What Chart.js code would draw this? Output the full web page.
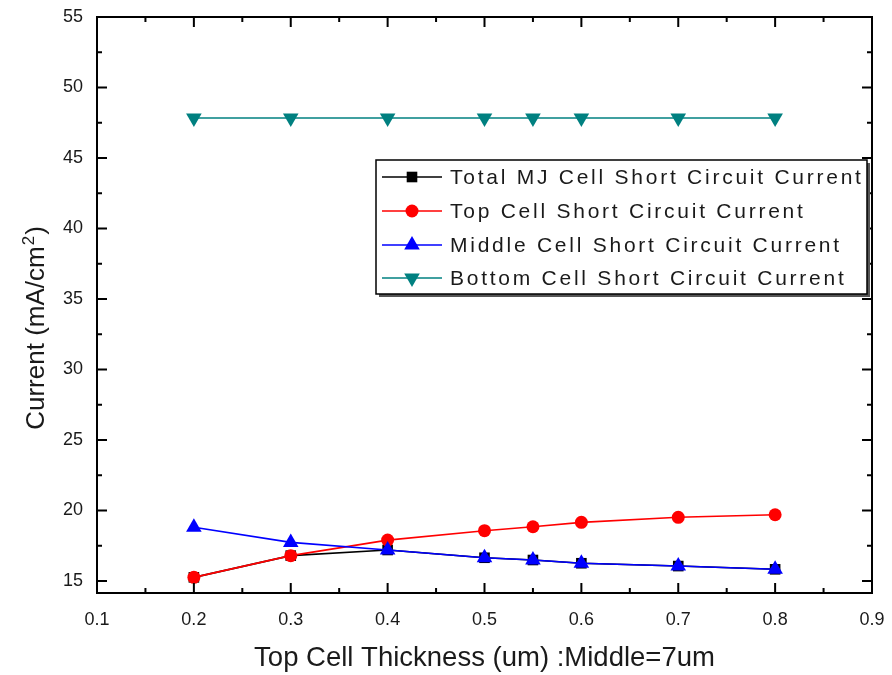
<!DOCTYPE html>
<html>
<head>
<meta charset="utf-8">
<script src="https://cdn.jsdelivr.net/npm/chart.js@4/dist/chart.umd.min.js"></script>
<style>
  html, body { margin: 0; padding: 0; background: #ffffff; }
  #wrap { width: 892px; height: 675px; }
</style>
</head>
<body>
<div id="wrap"><canvas id="chart" width="892" height="675"></canvas></div>
<script>
// Top cell thickness (um) and the short-circuit currents (mA/cm^2)
const thickness = [0.2, 0.3, 0.4, 0.5, 0.55, 0.6, 0.7, 0.8];
const totalCurrent = [15.26, 16.8, 17.2, 16.65, 16.49, 16.26, 16.06, 15.83];
const topCurrent = [15.26, 16.8, 17.9, 18.57, 18.85, 19.16, 19.52, 19.7];
const middleCurrent = [18.81, 17.74, 17.2, 16.65, 16.49, 16.26, 16.06, 15.83];
const bottomCurrent = [47.84, 47.84, 47.84, 47.84, 47.84, 47.84, 47.84, 47.84];
const seriesNames = [
  'Total MJ Cell Short Circuit Current',
  'Top Cell Short Circuit Current',
  'Middle Cell Short Circuit Current',
  'Bottom Cell Short Circuit Current'
];
const xTickValues = [0.1, 0.2, 0.3, 0.4, 0.5, 0.6, 0.7, 0.8, 0.9];
const yTickValues = [15, 20, 25, 30, 35, 40, 45, 50, 55];
const xTitle = 'Top Cell Thickness (um) :Middle=7um';
const yTitleMain = 'Current (mA/cm';
const yTitleSup = '2';
const yTitleEnd = ')';

const FONT = '"Liberation Sans", Arial, Helvetica, sans-serif';
const INK = '#1a1a1a';

function pts(vals) { return thickness.map((x, i) => ({ x: x, y: vals[i] })); }

const seriesStyle = [
  { color: '#000000', point: 'rect', radius: 7.5, rotation: 0, order: 3 },
  { color: '#ff0000', point: 'circle', radius: 6.5, rotation: 0, order: 2 },
  { color: '#0000ff', point: 'triangle', radius: 9, rotation: 0, order: 1 },
  { color: '#008080', point: 'triangle', radius: 9, rotation: 180, order: 0 }
];
const seriesValues = [totalCurrent, topCurrent, middleCurrent, bottomCurrent];

const datasets = seriesValues.map((vals, i) => {
  const s = seriesStyle[i];
  return {
    label: seriesNames[i],
    data: pts(vals),
    borderColor: s.color,
    backgroundColor: s.color,
    borderWidth: 1.6,
    pointStyle: s.point,
    pointRadius: s.radius,
    pointRotation: s.rotation,
    pointBorderWidth: 0,
    pointBackgroundColor: s.color,
    tension: 0,
    order: s.order
  };
});

// Frame box with inward major/minor ticks on all four sides, axis titles
const framePlugin = {
  id: 'frame',
  beforeDraw(chart) {
    const ctx = chart.ctx;
    ctx.save();
    ctx.fillStyle = '#ffffff';
    ctx.fillRect(0, 0, chart.width, chart.height);
    ctx.restore();
  },
  afterDatasetsDraw(chart) {
    const ctx = chart.ctx;
    const a = chart.chartArea;
    const xs = chart.scales.x, ys = chart.scales.y;
    ctx.save();
    ctx.strokeStyle = '#000000';
    ctx.lineWidth = 2;
    ctx.strokeRect(a.left, a.top, a.right - a.left, a.bottom - a.top);

    const major = 10, minor = 5;
    ctx.lineWidth = 2;
    ctx.beginPath();
    // x ticks (bottom and top)
    for (let i = 0; i < xTickValues.length; i++) {
      const px = xs.getPixelForValue(xTickValues[i]);
      ctx.moveTo(px, a.bottom); ctx.lineTo(px, a.bottom - major);
      ctx.moveTo(px, a.top); ctx.lineTo(px, a.top + major);
      if (i < xTickValues.length - 1) {
        const mx = xs.getPixelForValue((xTickValues[i] + xTickValues[i + 1]) / 2);
        ctx.moveTo(mx, a.bottom); ctx.lineTo(mx, a.bottom - minor);
        ctx.moveTo(mx, a.top); ctx.lineTo(mx, a.top + minor);
      }
    }
    // y ticks (left and right)
    for (let i = 0; i < yTickValues.length; i++) {
      const py = ys.getPixelForValue(yTickValues[i]);
      ctx.moveTo(a.left, py); ctx.lineTo(a.left + major, py);
      ctx.moveTo(a.right, py); ctx.lineTo(a.right - major, py);
      if (i < yTickValues.length - 1) {
        const my = ys.getPixelForValue((yTickValues[i] + yTickValues[i + 1]) / 2);
        ctx.moveTo(a.left, my); ctx.lineTo(a.left + minor, my);
        ctx.moveTo(a.right, my); ctx.lineTo(a.right - minor, my);
      }
    }
    ctx.stroke();

    // axis titles
    ctx.fillStyle = INK;
    ctx.font = '27.5px ' + FONT;
    ctx.textAlign = 'center';
    ctx.textBaseline = 'alphabetic';
    ctx.fillText(xTitle, (a.left + a.right) / 2, 666);

    ctx.translate(44, 329);
    ctx.rotate(-Math.PI / 2);
    ctx.textAlign = 'left';
    ctx.font = '26px ' + FONT;
    const w1 = ctx.measureText(yTitleMain).width;
    ctx.font = '17px ' + FONT;
    const w2 = ctx.measureText(yTitleSup).width;
    ctx.font = '26px ' + FONT;
    const w3 = ctx.measureText(yTitleEnd).width;
    let x0 = -(w1 + w2 + w3) / 2;
    ctx.fillText(yTitleMain, x0, 0);
    ctx.font = '17px ' + FONT;
    ctx.fillText(yTitleSup, x0 + w1 + 1, -10);
    ctx.font = '26px ' + FONT;
    ctx.fillText(yTitleEnd, x0 + w1 + w2 + 2, 0);
    ctx.restore();
  }
};

// Boxed legend with drop shadow
const legendPlugin = {
  id: 'boxLegend',
  afterDraw(chart) {
    const ctx = chart.ctx;
    const box = { l: 376, t: 160, r: 867, b: 294 };
    ctx.save();
    ctx.fillStyle = '#555555';
    ctx.fillRect(box.l + 3, box.t + 3, box.r - box.l, box.b - box.t);
    ctx.fillStyle = '#ffffff';
    ctx.fillRect(box.l, box.t, box.r - box.l, box.b - box.t);
    ctx.strokeStyle = '#000000';
    ctx.lineWidth = 1.5;
    ctx.strokeRect(box.l, box.t, box.r - box.l, box.b - box.t);

    const rowY = [177, 211, 245, 278];
    chart.data.datasets.forEach((ds, i) => {
      const y = rowY[i];
      ctx.strokeStyle = ds.borderColor;
      ctx.lineWidth = 1.6;
      ctx.beginPath();
      ctx.moveTo(382, y); ctx.lineTo(442, y);
      ctx.stroke();
      ctx.fillStyle = ds.borderColor;
      Chart.helpers.drawPoint(ctx, {
        pointStyle: ds.pointStyle,
        radius: ds.pointRadius,
        rotation: ds.pointRotation,
        borderWidth: 0
      }, 412, y);
      ctx.fillStyle = INK;
      ctx.font = '21px ' + FONT;
      ctx.letterSpacing = '2.75px';
      ctx.textAlign = 'left';
      ctx.textBaseline = 'middle';
      ctx.fillText(ds.label, 450, y + 1);
      ctx.letterSpacing = '0px';
    });
    ctx.restore();
  }
};

new Chart(document.getElementById('chart'), {
  type: 'line',
  data: { datasets: datasets },
  options: {
    responsive: false,
    animation: false,
    devicePixelRatio: 1,
    layout: { padding: { left: 0, top: 17, right: 20, bottom: 0 } },
    plugins: { legend: { display: false }, tooltip: { enabled: false } },
    scales: {
      x: {
        type: 'linear',
        min: 0.1,
        max: 0.9,
        afterBuildTicks(scale) { scale.ticks = xTickValues.map(v => ({ value: v })); },
        afterFit(scale) {
          scale.height = 82;
          scale.paddingLeft = 0;
          scale.paddingRight = 0;
        },
        grid: { display: false, drawTicks: false },
        border: { display: false },
        ticks: {
          padding: 16,
          color: INK,
          font: { family: FONT, size: 18 },
          maxRotation: 0,
          autoSkip: false,
          callback: v => v.toFixed(1)
        }
      },
      y: {
        type: 'linear',
        min: 14.15,
        max: 55,
        afterBuildTicks(scale) { scale.ticks = yTickValues.map(v => ({ value: v })); },
        afterFit(scale) {
          scale.width = 97;
          scale.paddingTop = 0;
          scale.paddingBottom = 0;
        },
        grid: { display: false, drawTicks: false },
        border: { display: false },
        ticks: {
          padding: 14,
          color: INK,
          font: { family: FONT, size: 18 },
          autoSkip: false,
          callback: v => String(v)
        }
      }
    }
  },
  plugins: [framePlugin, legendPlugin]
});
</script>
</body>
</html>
